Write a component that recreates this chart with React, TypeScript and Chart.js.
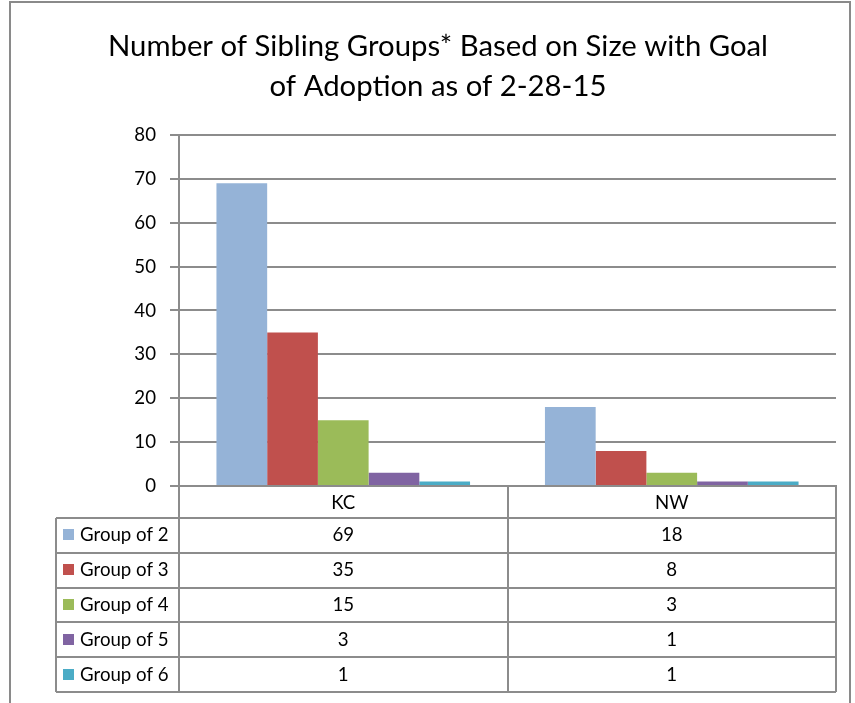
import React, { useEffect, useRef } from "react";
import { Chart, registerables } from "chart.js";

Chart.register(...registerables);

const categories = ["KC", "NW"];
const seriesNames = ["Group of 2", "Group of 3", "Group of 4", "Group of 5", "Group of 6"];
const group2 = [69, 18];
const group3 = [35, 8];
const group4 = [15, 3];
const group5 = [3, 1];
const group6 = [1, 1];
const seriesValues = [group2, group3, group4, group5, group6];
const seriesColors = ["#95B3D7", "#C0504D", "#9BBB59", "#8064A2", "#4BACC6"];
const titleLines = ["Number of Sibling Groups* Based on Size with Goal", "of Adoption as of 2-28-15"];
const yMin = 0;
const yMax = 80;
const yStep = 10;

const FONT = "Lato, 'Noto Sans', sans-serif";
const SMALL = 18.67;
const LINE = "#8c8c8c";

const tablePlugin = {
  id: "dataTable",
  afterDraw(chart: any) {
    const ctx = chart.ctx as CanvasRenderingContext2D;
    const area = chart.chartArea;
    const xs = chart.scales.x;
    const headerBottom = area.bottom + 32;
    const rowH = 34.8;
    const legendLeft = 56;
    const n = seriesNames.length;
    const tableBottom = headerBottom + n * rowH;

    ctx.save();
    // outer frame
    ctx.strokeStyle = "#8a8a8a";
    ctx.lineWidth = 2;
    ctx.beginPath();
    ctx.moveTo(10, 703);
    ctx.lineTo(10, 2);
    ctx.lineTo(850, 2);
    ctx.lineTo(850, 703);
    ctx.stroke();

    ctx.strokeStyle = LINE;
    ctx.lineWidth = 2;
    for (let i = 0; i <= n; i++) {
      const y = Math.round(headerBottom + i * rowH);
      ctx.beginPath();
      ctx.moveTo(legendLeft, y);
      ctx.lineTo(area.right, y);
      ctx.stroke();
    }
    const bounds: number[] = [area.left];
    for (let i = 0; i < categories.length - 1; i++) {
      bounds.push((xs.getPixelForValue(i) + xs.getPixelForValue(i + 1)) / 2);
    }
    bounds.push(area.right);
    bounds.forEach((x) => {
      ctx.beginPath();
      ctx.moveTo(Math.round(x), area.bottom);
      ctx.lineTo(Math.round(x), Math.round(tableBottom));
      ctx.stroke();
    });
    ctx.beginPath();
    ctx.moveTo(legendLeft, Math.round(headerBottom));
    ctx.lineTo(legendLeft, Math.round(tableBottom));
    ctx.stroke();

    ctx.font = `${SMALL}px ${FONT}`;
    ctx.textBaseline = "middle";
    for (let i = 0; i < n; i++) {
      const cy = headerBottom + i * rowH + rowH / 2;
      ctx.fillStyle = seriesColors[i];
      ctx.fillRect(63, Math.round(cy - 6), 11, 11);
      ctx.fillStyle = "#000";
      ctx.textAlign = "left";
      ctx.fillText(seriesNames[i], 80, cy);
      ctx.textAlign = "center";
      for (let j = 0; j < categories.length; j++) {
        ctx.fillText(String(seriesValues[i][j]), xs.getPixelForValue(j), cy);
      }
    }
    ctx.restore();
  },
};

export default function App() {
  const ref = useRef<HTMLCanvasElement | null>(null);
  useEffect(() => {
    if (!ref.current) return;
    const chart = new Chart(ref.current, {
      type: "bar",
      data: {
        labels: categories,
        datasets: seriesNames.map((name, i) => ({
          label: name,
          data: seriesValues[i],
          backgroundColor: seriesColors[i],
          borderWidth: 0,
          categoryPercentage: 0.772,
          barPercentage: 1,
        })),
      },
      options: {
        animation: false,
        responsive: false,
        layout: { padding: { left: 40, right: 19, top: 0, bottom: 185 } },
        plugins: {
          legend: { display: false },
          tooltip: { enabled: false },
          title: {
            display: true,
            text: titleLines,
            color: "#000",
            font: { family: FONT, size: 29.3, weight: "normal", lineHeight: 1.365 },
            padding: { top: 27, bottom: 28 },
          },
        },
        scales: {
          x: {
            grid: { display: false, drawTicks: false },
            border: { display: true, color: LINE, width: 2 },
            ticks: { color: "#000", font: { family: FONT, size: SMALL }, padding: 6 },
            afterFit: (scale: any) => {
              scale.height = 32;
            },
          },
          y: {
            min: yMin,
            max: yMax,
            ticks: { stepSize: yStep, color: "#000", font: { family: FONT, size: SMALL }, padding: 14 },
            grid: { color: LINE, lineWidth: 2, tickLength: 9 },
            border: { display: true, color: LINE, width: 2 },
            afterFit: (scale: any) => {
              scale.width = 139;
            },
          },
        },
      },
      plugins: [tablePlugin],
    });
    return () => chart.destroy();
  }, []);
  return (
    <div style={{ position: "absolute", left: 0, top: 0, width: 855, height: 703, background: "#fff" }}>
      <canvas ref={ref} width={855} height={703} style={{ display: "block" }} />
    </div>
  );
}
